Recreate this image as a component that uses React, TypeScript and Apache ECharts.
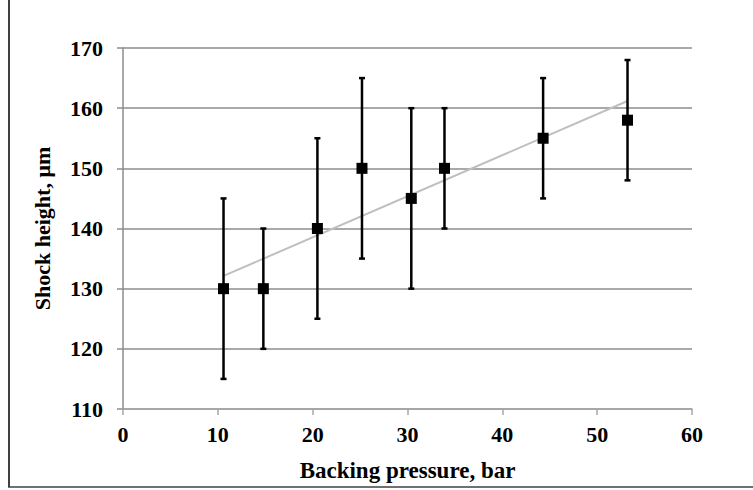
import React, { useEffect, useRef } from "react";
import * as echarts from "echarts";

const pressures = [10.6, 14.8, 20.5, 25.2, 30.4, 33.9, 44.3, 53.2];
const heights = [130, 130, 140, 150, 145, 150, 155, 158];
const errLow = [115, 120, 125, 135, 130, 140, 145, 148];
const errHigh = [145, 140, 155, 165, 160, 160, 165, 168];
const yTicks = [110, 120, 130, 140, 150, 160, 170];
const xTicks = [0, 10, 20, 30, 40, 50, 60];

const FONT = "'Liberation Serif', 'DejaVu Serif', serif";

function linearFit(xs: number[], ys: number[]) {
  const n = xs.length;
  const mx = xs.reduce((a, b) => a + b, 0) / n;
  const my = ys.reduce((a, b) => a + b, 0) / n;
  let sxy = 0, sxx = 0;
  for (let i = 0; i < n; i++) {
    sxy += (xs[i] - mx) * (ys[i] - my);
    sxx += (xs[i] - mx) * (xs[i] - mx);
  }
  const slope = sxy / sxx;
  return { slope, intercept: my - slope * mx };
}

export default function App() {
  const ref = useRef<HTMLDivElement>(null);
  useEffect(() => {
    if (!ref.current) return;
    const chart = echarts.init(ref.current, null, { renderer: "svg" });
    const fit = linearFit(pressures, heights);
    const xMin = Math.min(...pressures);
    const xMax = Math.max(...pressures);
    const trend = [
      [xMin, fit.intercept + fit.slope * xMin],
      [xMax, fit.intercept + fit.slope * xMax],
    ];
    const errData = pressures.map((p, i) => [p, errLow[i], errHigh[i]]);
    const points = pressures.map((p, i) => [p, heights[i]]);

    chart.setOption({
      animation: false,
      backgroundColor: "#ffffff",
      grid: { left: 123, right: 61, top: 48, bottom: 81, containLabel: false },
      xAxis: {
        type: "value",
        min: xTicks[0],
        max: xTicks[xTicks.length - 1],
        interval: 10,
        name: "Backing pressure, bar",
        nameLocation: "middle",
        nameGap: 50,
        nameTextStyle: { fontFamily: FONT, fontWeight: "bold", fontSize: 23, color: "#000" },
        axisLine: { show: true, lineStyle: { color: "#a6a6a6", width: 1.5 } },
        axisTick: { show: true, length: 6, lineStyle: { color: "#a6a6a6", width: 1.5 } },
        axisLabel: { margin: 14, fontFamily: FONT, fontWeight: "bold", fontSize: 22, color: "#000" },
        splitLine: { show: false },
      },
      yAxis: {
        type: "value",
        min: yTicks[0],
        max: yTicks[yTicks.length - 1],
        interval: 10,
        name: "Shock height, \u03bcm",
        nameLocation: "middle",
        nameGap: 70,
        nameTextStyle: { fontFamily: FONT, fontWeight: "bold", fontSize: 22, color: "#000" },
        axisLine: { show: true, lineStyle: { color: "#8c8c8c", width: 1.5 } },
        axisTick: { show: true, length: 6, lineStyle: { color: "#8c8c8c", width: 1.5 } },
        axisLabel: { margin: 20, fontFamily: FONT, fontWeight: "bold", fontSize: 22, color: "#000" },
        splitLine: { show: true, lineStyle: { color: "#8c8c8c", width: 1.5 } },
      },
      series: [
        {
          type: "line",
          data: trend,
          symbol: "none",
          lineStyle: { color: "#bfbfbf", width: 2 },
          z: 2,
          silent: true,
        },
        {
          type: "custom",
          data: errData,
          z: 3,
          renderItem: (params: any, api: any) => {
            const x = api.value(0);
            const lo = api.coord([x, api.value(1)]);
            const hi = api.coord([x, api.value(2)]);
            const hw = 3;
            const style = { stroke: "#000", lineWidth: 2.5 };
            return {
              type: "group",
              children: [
                { type: "line", shape: { x1: lo[0], y1: lo[1], x2: hi[0], y2: hi[1] }, style },
                { type: "line", shape: { x1: lo[0] - hw, y1: lo[1], x2: lo[0] + hw, y2: lo[1] }, style },
                { type: "line", shape: { x1: hi[0] - hw, y1: hi[1], x2: hi[0] + hw, y2: hi[1] }, style },
              ],
            };
          },
        },
        {
          type: "scatter",
          data: points,
          symbol: "rect",
          symbolSize: 11,
          itemStyle: { color: "#000", opacity: 1 },
          z: 4,
        },
      ],
      graphic: [
        { type: "line", shape: { x1: 9, y1: 0, x2: 9, y2: 487 }, style: { stroke: "#404040", lineWidth: 2 } },
        { type: "line", shape: { x1: 8, y1: 487, x2: 753, y2: 487 }, style: { stroke: "#404040", lineWidth: 1.5 } },
      ],
    });
    return () => chart.dispose();
  }, []);
  return (
    <div
      ref={ref}
      style={{ position: "absolute", left: 0, top: 0, width: 753, height: 490 }}
    />
  );
}
